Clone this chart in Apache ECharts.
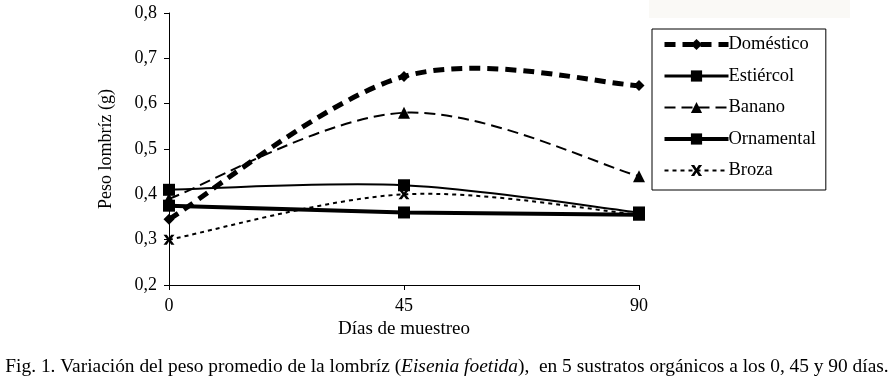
<!DOCTYPE html>
<html>
<head>
<meta charset="utf-8">
<script src="https://cdn.jsdelivr.net/npm/echarts@6/dist/echarts.min.js"></script>
<style>
html,body{margin:0;padding:0;background:#fff;}
#chart{width:894px;height:382px;}
</style>
</head>
<body>
<div id="chart"></div>
<script>
const days = [0, 45, 90];
const domestico = [0.345, 0.66, 0.64];
const estiercol = [0.41, 0.42, 0.36];
const banano = [0.39, 0.58, 0.44];
const ornamental = [0.375, 0.36, 0.355];
const broza = [0.30, 0.40, 0.355];
const seriesNames = ['Doméstico', 'Estiércol', 'Banano', 'Ornamental', 'Broza'];
const yTicks = ['0,2', '0,3', '0,4', '0,5', '0,6', '0,7', '0,8'];

const FONT = '"Liberation Serif", "Times New Roman", serif';
const pairs = arr => days.map((d, i) => [d, arr[i]]);
const xMark = 'path://M0,0 L3,0 L5,2.5 L7,0 L10,0 L6.5,4 L10,8 L7,8 L5,5.5 L3,8 L0,8 L3.5,4 Z';

const styles = {
  'Doméstico': { width: 5, dash: [11, 7], symbol: 'diamond', size: 11, smooth: true },
  'Estiércol': { width: 2, dash: null, symbol: 'rect', size: 12, smooth: true },
  'Banano': { width: 2, dash: [11, 6], symbol: 'triangle', size: 12, smooth: true },
  'Ornamental': { width: 4, dash: null, symbol: 'rect', size: 12, smooth: false },
  'Broza': { width: 2, dash: [4, 4], symbol: xMark, size: [11, 10], smooth: true }
};
const values = { 'Doméstico': domestico, 'Estiércol': estiercol, 'Banano': banano, 'Ornamental': ornamental, 'Broza': broza };

// Excel-like smoothed curve (Catmull-Rom through points, drawn via axis coords)
function smoothCurve(name) {
  const arr = values[name];
  const st = styles[name];
  return {
    name: '_curve_' + name, type: 'custom', data: pairs(arr), z: 2, silent: true,
    renderItem: (params, api) => {
      if (params.dataIndex !== 0) return null;
      const p = arr.map((v, i) => api.coord([days[i], v]));
      const n = p.length;
      let d = 'M' + p[0][0] + ' ' + p[0][1];
      for (let i = 0; i < n - 1; i++) {
        const p0 = p[Math.max(i - 1, 0)], p1 = p[i], p2 = p[i + 1], p3 = p[Math.min(i + 2, n - 1)];
        const c1 = [p1[0] + (p2[0] - p0[0]) / 6, p1[1] + (p2[1] - p0[1]) / 6];
        const c2 = [p2[0] - (p3[0] - p1[0]) / 6, p2[1] - (p3[1] - p1[1]) / 6];
        d += ' C' + c1[0] + ' ' + c1[1] + ' ' + c2[0] + ' ' + c2[1] + ' ' + p2[0] + ' ' + p2[1];
      }
      return { type: 'path', shape: { pathData: d },
        style: { fill: null, stroke: '#000', lineWidth: st.width, lineDash: st.dash || null } };
    }
  };
}

const lineSeries = seriesNames.map(name => {
  const st = styles[name];
  return {
    name, type: 'line', data: pairs(values[name]), smooth: false, z: 3,
    symbol: st.symbol, symbolSize: st.size,
    lineStyle: { color: '#000', width: st.width, type: st.dash || 'solid', opacity: st.smooth ? 0 : 1 },
    itemStyle: { color: '#000' }
  };
});

const chart = echarts.init(document.getElementById('chart'));
chart.setOption({
  animation: false,
  backgroundColor: '#fff',
  textStyle: { fontFamily: FONT, color: '#000' },
  grid: { left: 169, right: 255, top: 13, bottom: 97, containLabel: false },
  graphic: [
    { type: 'rect', shape: { x: 649, y: 0, width: 201, height: 18 }, style: { fill: '#faf9f6' }, z: -1 },
    { type: 'text', left: 'center', top: 357,
      style: { rich: {
        n: { fontFamily: FONT, fontSize: 19.4, fill: '#000' },
        i: { fontFamily: FONT, fontSize: 19.4, fontStyle: 'italic', fill: '#000' }
      }, text: '{n|Fig. 1. Variación del peso promedio de la lombríz (}{i|Eisenia foetida}{n|),  en 5 sustratos orgánicos a los 0, 45 y 90 días.}' } }
  ],
  legend: {
    orient: 'vertical', left: 652, top: 29,
    backgroundColor: '#fff', borderColor: '#000', borderWidth: 1,
    padding: [6, 10, 10, 10], itemGap: 12.5, itemWidth: 64, itemHeight: 14,
    textStyle: { fontFamily: FONT, fontSize: 18.5, color: '#000', padding: [0, 0, 0, -5] },
    data: seriesNames.map(name => ({
      name,
      lineStyle: { color: '#000', width: styles[name].width + (name === 'Estiércol' ? 1 : 0), type: styles[name].dash || 'solid', opacity: 1 }
    }))
  },
  xAxis: {
    type: 'value', min: 0, max: 90, interval: 45,
    name: 'Días de muestreo', nameLocation: 'middle', nameGap: 32,
    nameTextStyle: { fontFamily: FONT, fontSize: 19, color: '#000' },
    axisLine: { lineStyle: { color: '#000', width: 1 } },
    axisTick: { show: true, length: 5, inside: false, lineStyle: { color: '#000' } },
    axisLabel: { fontFamily: FONT, fontSize: 18, color: '#000', margin: 12 },
    splitLine: { show: false }
  },
  yAxis: {
    type: 'value', min: 0.2, max: 0.8, interval: 0.1,
    name: 'Peso lombríz (g)', nameLocation: 'middle', nameGap: 54, nameRotate: 90,
    nameTextStyle: { fontFamily: FONT, fontSize: 18, color: '#000' },
    axisLine: { show: true, lineStyle: { color: '#000', width: 1 } },
    axisTick: { show: true, length: 5, lineStyle: { color: '#000' } },
    axisLabel: { fontFamily: FONT, fontSize: 18, color: '#000', margin: 12,
      formatter: v => yTicks[Math.round((v - 0.2) * 10)] },
    splitLine: { show: false }
  },
  series: lineSeries.concat(seriesNames.filter(n => styles[n].smooth).map(smoothCurve))
});
</script>
</body>
</html>
